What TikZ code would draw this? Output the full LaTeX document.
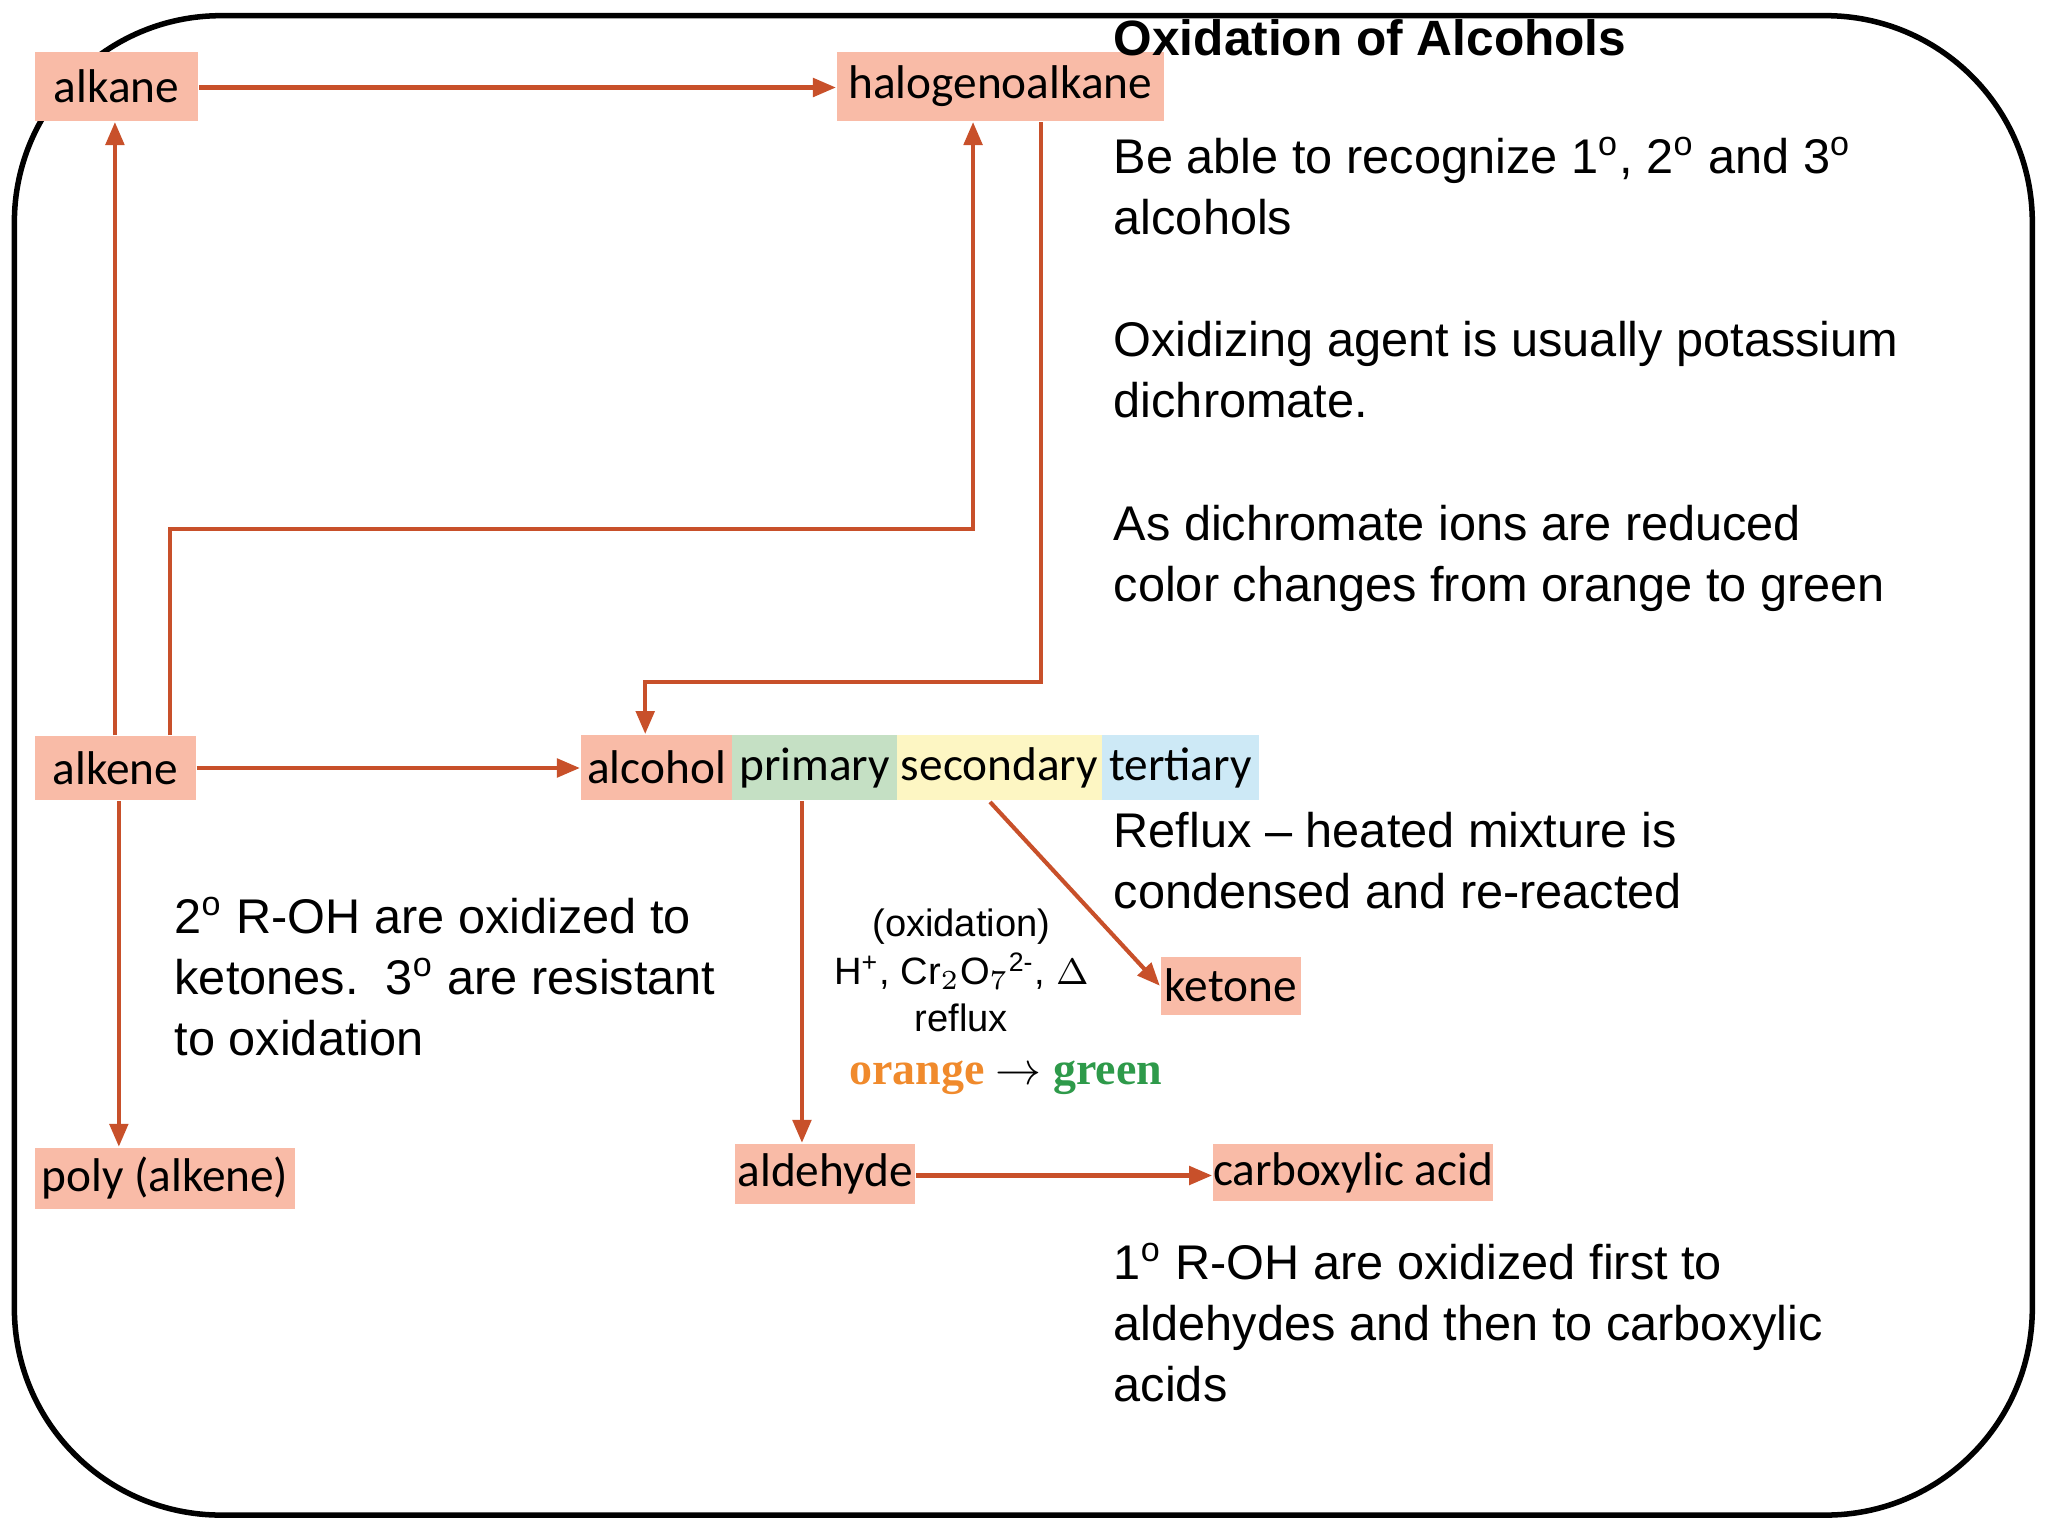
\documentclass[tikz,border=0pt]{standalone}
\usepackage{fontspec}
\setmainfont{Liberation Sans}
\newfontfamily\boxfont{Carlito}
\newfontfamily\serifb{Liberation Serif}
\usetikzlibrary{arrows.meta}
\definecolor{salmon}{HTML}{F9BBA7}
\definecolor{arr}{HTML}{C8502A}
\definecolor{pgreen}{HTML}{C5E0C4}
\definecolor{pyellow}{HTML}{FDF6C3}
\definecolor{pblue}{HTML}{CDE9F6}
\tikzset{
 chem/.style={fill=salmon,font=\boxfont\fontsize{10.3}{12}\selectfont,inner sep=0pt,anchor=north west},
 conn/.style={draw=arr,line width=0.9pt,-{Triangle[length=5pt,width=4pt]}},
 para/.style={anchor=north west,align=left,inner sep=0pt,font=\fontsize{10.6}{13.3}\selectfont},
}
\begin{document}
\begin{tikzpicture}[x=0.01cm,y=-0.01cm]
\useasboundingbox (0,0) rectangle (1568,1176);
\draw[line width=1.2pt,rounded corners=45] (11,12) rectangle (1556,1160);
% boxes
\node[chem,minimum width=1.25cm,minimum height=0.53cm] (alkane) at (26,39) {alkane};
\node[chem,minimum width=2.50cm,minimum height=0.53cm] (halo) at (640,39) {halogenoalkane};
\node[chem,minimum width=1.23cm,minimum height=0.49cm] (alkene) at (26,563) {alkene};
\node[chem,minimum width=1.16cm,minimum height=0.50cm] (alcohol) at (444,562) {alcohol};
\node[chem,fill=pgreen,minimum width=1.26cm,minimum height=0.50cm] (primary) at (560,562) {primary};
\node[chem,fill=pyellow,minimum width=1.57cm,minimum height=0.50cm] (secondary) at (686,562) {secondary};
\node[chem,fill=pblue,minimum width=1.20cm,minimum height=0.50cm] (tertiary) at (843,562) {tertiary};
\node[chem,minimum width=1.07cm,minimum height=0.44cm] (ketone) at (888,732) {ketone};
\node[chem,minimum width=1.99cm,minimum height=0.47cm] (poly) at (26,878) {poly (alkene)};
\node[chem,minimum width=1.38cm,minimum height=0.46cm] (aldehyde) at (562,875) {aldehyde};
\node[chem,minimum width=2.10cm,minimum height=0.44cm] (carb) at (928,875) {carboxylic acid};
% connectors
\draw[conn] (alkane.east |- 0,67) -- (halo.west |- 0,67);
\draw[conn] (alkene.north -| 88,0) -- (alkane.south -| 88,0);
\draw[conn] (alkene.north -| 130,0) -- (130,405) -- (745,405) -- (halo.south -| 745,0);
\draw[conn] (halo.south -| 797,0) -- (797,522) -- (494,522) -- (alcohol.north -| 494,0);
\draw[conn] (alkene.east |- 0,588) -- (alcohol.west |- 0,588);
\draw[conn] (alkene.south -| 91,0) -- (poly.north -| 91,0);
\draw[conn] (primary.south -| 614,0) -- (aldehyde.north -| 614,0);
\draw[conn] (758,614) -- (ketone.west);
\draw[conn] (aldehyde.east |- 0,900) -- (carb.west |- 0,900);
% texts
\node[para,font=\bfseries\fontsize{10.8}{13}\selectfont] (title) at (852,14) {Oxidation of Alcohols};
\node[para] (p1) at (852,104) {Be able to recognize 1\textsuperscript{o}, 2\textsuperscript{o} and 3\textsuperscript{o}\\alcohols};
\node[para] (p2) at (852,245) {Oxidizing agent is usually potassium\\dichromate.};
\node[para] (p3) at (852,386) {As dichromate ions are reduced\\color changes from orange to green};
\node[para] (p4) at (852,621) {Reflux -- heated mixture is\\condensed and re-reacted};
\node[para] (p5) at (852,951) {1\textsuperscript{o} R-OH are oxidized first to\\aldehydes and then to carboxylic\\acids};
\node[para] (p6) at (133,686) {2\textsuperscript{o} R-OH are oxidized to\\ketones.\ \ 3\textsuperscript{o} are resistant\\to oxidation};
\node[align=center,inner sep=0pt,font=\fontsize{8.3}{10.3}\selectfont] (cond) at (736,743) {(oxidation)\\H\textsuperscript{+}, Cr$_2$O$_7$\textsuperscript{2-}, $\Delta$\\reflux};
\node[inner sep=0pt,font=\serifb\bfseries\fontsize{10}{11}\selectfont] (og) at (770,825) {\textcolor[HTML]{F08A2C}{orange} $\rightarrow$ \textcolor[HTML]{2E9A4A}{green}};
\end{tikzpicture}
\end{document}
